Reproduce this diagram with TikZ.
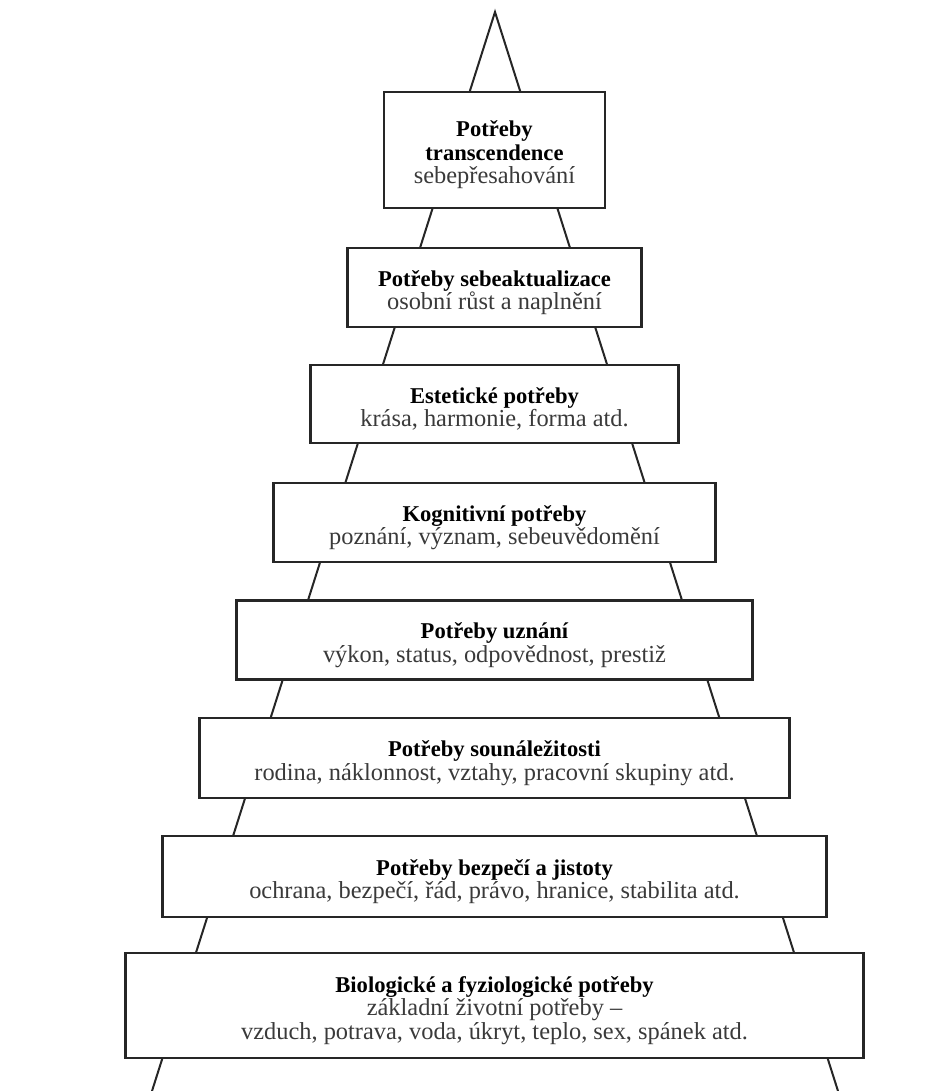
\documentclass[tikz,border=0pt]{standalone}
\usepackage{fontspec}
\setmainfont{Liberation Serif}
\definecolor{needgray}{HTML}{3A3A3A}
\definecolor{needline}{HTML}{262626}
\newcommand{\needtitle}[1]{{\fontsize{11.3}{11.75}\selectfont\bfseries #1}}
\newcommand{\needhead}[1]{\rule{0pt}{13pt}\needtitle{#1}}
\newcommand{\needtext}[1]{{\fontsize{12.2}{11.75}\selectfont\color{needgray}#1}}
\tikzset{
  need/.style={draw=needline, fill=white, line width=1.3pt, align=center, inner sep=0pt,
    font=\fontsize{11.5}{11.75}\selectfont},
  side/.style={draw=needline, line width=1pt}
}
\begin{document}
\begin{tikzpicture}[x=0.5pt, y=-0.5pt]
  \useasboundingbox (0,0) rectangle (938,1091);
  % pyramid outline behind the boxes
  \coordinate (apex) at (495,12);
  \coordinate (baseL) at (152,1091);
  \coordinate (baseR) at (838,1091);
  \draw[side, line join=miter] (baseL) -- (apex) -- (baseR);
  % levels, top to bottom
  \node[need, minimum width=110.5pt, minimum height=58pt] (transc) at (494.5,150)
    {\needhead{Potřeby}\\\needtitle{transcendence}\\\needtext{sebepřesahování}};
  \node[need, minimum width=147pt, minimum height=39.5pt] (selfact) at (494.5,287.5)
    {\needhead{Potřeby sebeaktualizace}\\\needtext{osobní růst a naplnění}};
  \node[need, minimum width=184pt, minimum height=39pt] (aesth) at (494.5,404)
    {\needhead{Estetické potřeby}\\\needtext{krása, harmonie, forma atd.}};
  \node[need, minimum width=221pt, minimum height=39.5pt] (cogn) at (494.5,522.5)
    {\needhead{Kognitivní potřeby}\\\needtext{poznání, význam, sebeuvědomění}};
  \node[need, minimum width=258pt, minimum height=39.5pt] (esteem) at (494.5,640)
    {\needhead{Potřeby uznání}\\\needtext{výkon, status, odpovědnost, prestiž}};
  \node[need, minimum width=295pt, minimum height=40pt] (belong) at (494.5,758)
    {\needhead{Potřeby sounáležitosti}\\\needtext{rodina, náklonnost, vztahy, pracovní skupiny atd.}};
  \node[need, minimum width=332pt, minimum height=40.5pt] (safety) at (494.5,876.5)
    {\needhead{Potřeby bezpečí a jistoty}\\\needtext{ochrana, bezpečí, řád, právo, hranice, stabilita atd.}};
  \node[need, minimum width=369pt, minimum height=52.5pt] (bio) at (494.5,1005.5)
    {\needhead{Biologické a fyziologické potřeby}\\\needtext{základní životní potřeby –}\\\needtext{vzduch, potrava, voda, úkryt, teplo, sex, spánek atd.}};
\end{tikzpicture}
\end{document}
